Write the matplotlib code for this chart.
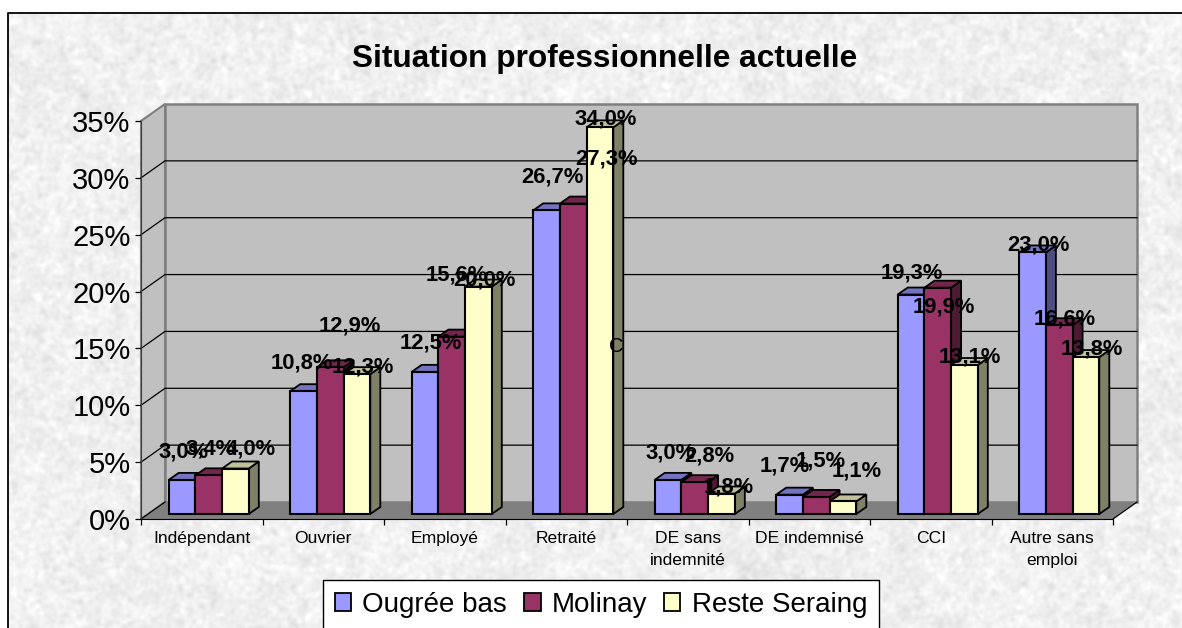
import numpy as np
import matplotlib
matplotlib.use("Agg")
import matplotlib.pyplot as plt
from matplotlib.patches import Patch, Polygon

plt.rcParams["font.family"] = ["Liberation Sans", "DejaVu Sans"]

W, H = 1182, 628

categories = ["Indépendant", "Ouvrier", "Employé", "Retraité", "DE sans\nindemnité",
              "DE indemnisé", "CCI", "Autre sans\nemploi"]
series_names = ["Ougrée bas", "Molinay", "Reste Seraing"]
ougree = [3.0, 10.8, 12.5, 26.7, 3.0, 1.7, 19.3, 23.0]
molinay = [3.4, 12.9, 15.6, 27.3, 2.8, 1.5, 19.9, 16.6]
reste = [4.0, 12.3, 20.0, 34.0, 1.8, 1.1, 13.1, 13.8]
yticks = [0, 5, 10, 15, 20, 25, 30, 35]

# label offsets from bar top, pixels (the labels were moved by hand in the original)
off_ougree = [(2, 28), (-1.5, 28), (6, 29), (5.5, 33), (3, 27), (-4.5, 29), (1, 22), (5.5, 7.5)]
off_molinay = [(2, 26), (20, 41), (5, 62), (33, 45), (15, 26), (4, 36), (6, -19), (5, 6)]
off_reste = [(15.5, 19.5), (6, 7), (5.5, 7), (6, 8), (7.5, 6.5), (14, 30), (5.5, 8), (6, 8)]

face = ["#9999FF", "#993366", "#FFFFCC"]
top = ["#7373C0", "#73264D", "#C0C09A"]
side = ["#4D4D80", "#4D1A33", "#808066"]

# scale of the front plane, pixels per unit
PX_X = 121.5
PX_Y = 11.37
WALL_DX, WALL_DY = 24 / PX_X, 17 / PX_Y
BAR_DX, BAR_DY = 7 / PX_X, 5 / PX_Y
DEPTH_X, DEPTH_Y = 10 / PX_X, 7 / PX_Y
BAR_W = 26.7 / PX_X


def make_texture(h, w):
    # grainy paper look of the chart area, only decoration
    rng = np.random.default_rng(7)
    fy = np.fft.fftfreq(h)[:, None]
    fx = np.fft.rfftfreq(w)[None, :]
    r2 = fx ** 2 + fy ** 2
    out = np.zeros((h, w))
    for sig, amp in [(1.8, 0.7), (5, 0.35), (30, 0.15)]:
        n = np.fft.irfft2(np.fft.rfft2(rng.normal(size=(h, w))) * np.exp(-2 * (np.pi * sig) ** 2 * r2), s=(h, w))
        out += amp * n / n.std()
    return np.clip(0.94 + 0.024 * out, 0.82, 1.0)


fig = plt.figure(figsize=(W / 100, H / 100), dpi=100, facecolor="white")

bg = fig.add_axes([0, 0, 1, 1], zorder=0)
bg.imshow(make_texture(H - 13, W - 8), cmap="gray", vmin=0, vmax=1, extent=(8, W, H, 13), aspect="auto")
bg.plot([8, 8, W], [H, 13, 13], color="black", lw=1.3, clip_on=False)
bg.set_xlim(0, W)
bg.set_ylim(H, 0)
bg.axis("off")

ax = fig.add_axes([141 / W, 1 - 519 / H, 972 / W, 398 / H], zorder=1)
ax.patch.set_visible(False)
n = len(categories)

# walls and floor
ax.add_patch(Polygon([(0, 0), (0, 35), (WALL_DX, 35 + WALL_DY), (WALL_DX, WALL_DY)],
                     fc="#C0C0C0", ec="#808080", lw=1.5, clip_on=False, zorder=1))
ax.add_patch(Polygon([(WALL_DX, WALL_DY), (WALL_DX, 35 + WALL_DY), (n + WALL_DX, 35 + WALL_DY), (n + WALL_DX, WALL_DY)],
                     fc="#C0C0C0", ec="#808080", lw=1.8, clip_on=False, zorder=1))
ax.add_patch(Polygon([(0, 0), (n, 0), (n + WALL_DX, WALL_DY), (WALL_DX, WALL_DY)],
                     fc="#808080", ec="none", clip_on=False, zorder=2))
for v in yticks[1:-1]:
    ax.plot([0, WALL_DX, n + WALL_DX], [v, v + WALL_DY, v + WALL_DY], color="black", lw=0.9, clip_on=False, zorder=3)
ax.plot([0, WALL_DX], [0, WALL_DY], color="black", lw=0.9, clip_on=False, zorder=3)
ax.plot([n, n + WALL_DX], [0, WALL_DY], color="black", lw=0.9, clip_on=False, zorder=3)

values = [ougree, molinay, reste]
offsets = [off_ougree, off_molinay, off_reste]

# sides and tops go left to right so the next bar covers the one before
order = 4.0
for k in range(n):
    for j, vals in enumerate(values):
        x0 = k + 0.5 + BAR_DX + (j - 1.5) * BAR_W
        x1 = x0 + BAR_W
        y0, y1 = BAR_DY, vals[k] + BAR_DY
        ax.add_patch(Polygon([(x1, y0), (x1 + DEPTH_X, y0 + DEPTH_Y), (x1 + DEPTH_X, y1 + DEPTH_Y), (x1, y1)],
                             fc=side[j], ec="black", lw=1.3, clip_on=False, zorder=order))
        ax.add_patch(Polygon([(x0, y1), (x1, y1), (x1 + DEPTH_X, y1 + DEPTH_Y), (x0 + DEPTH_X, y1 + DEPTH_Y)],
                             fc=top[j], ec="black", lw=1.3, clip_on=False, zorder=order))
        order += 0.01

xs = np.arange(n) + 0.5 + BAR_DX
for j, vals in enumerate(values):
    ax.bar(xs + (j - 1) * BAR_W, vals, BAR_W, bottom=BAR_DY, color=face[j], edgecolor="black",
           linewidth=1.5, clip_on=False, zorder=6)
    for k, v in enumerate(vals):
        ax.annotate(f"{v:.1f}%".replace(".", ","), (xs[k] + (j - 1) * BAR_W, v + BAR_DY),
                    xytext=offsets[j][k], textcoords="offset pixels", ha="center", va="center",
                    fontsize=15.8, fontweight="bold", color="black", zorder=10, annotation_clip=False)

# stray letter left in the source picture
ax.annotate("C", (xs[3] + BAR_W, 15), xytext=(16, 2), textcoords="offset pixels", ha="center", va="center",
            fontsize=14.5, color="black", zorder=10)

ax.set_xlim(0, n)
ax.set_ylim(0, 35)
ax.set_yticks(yticks)
ax.set_yticklabels([f"{v}%" for v in yticks], fontsize=21)
ax.set_xticks(np.arange(n + 1))
ax.set_xticklabels([])
ax.set_xticks(np.arange(n) + 0.5, minor=True)
ax.set_xticklabels(categories, minor=True, fontsize=12.6, linespacing=1.6)
ax.tick_params(axis="both", which="major", length=4.5, width=0.9, color="black")
ax.tick_params(axis="x", which="minor", length=0, pad=8.5)
ax.tick_params(axis="y", which="major", pad=3)
for s in ["top", "right"]:
    ax.spines[s].set_visible(False)
ax.spines["left"].set_color("#404040")
ax.spines["left"].set_zorder(3)
ax.spines["bottom"].set_zorder(3)

fig.text(605 / W, 1 - 59 / H, "Situation professionnelle actuelle", ha="center", va="center",
         fontsize=22.8, fontweight="bold", color="black")

handles = [Patch(fc=c, ec="black", lw=1.3) for c in face]
leg = fig.legend(handles, series_names, loc="upper left", bbox_to_anchor=(323 / W, 1 - 580 / H), ncol=3,
                 fontsize=20, frameon=True, fancybox=False, framealpha=1, edgecolor="black", borderaxespad=0,
                 handlelength=0.6, handleheight=0.6, handletextpad=0.4, columnspacing=0.6, borderpad=0.42)
leg.get_frame().set_linewidth(1.0)

fig.savefig("out.png", dpi=100)
